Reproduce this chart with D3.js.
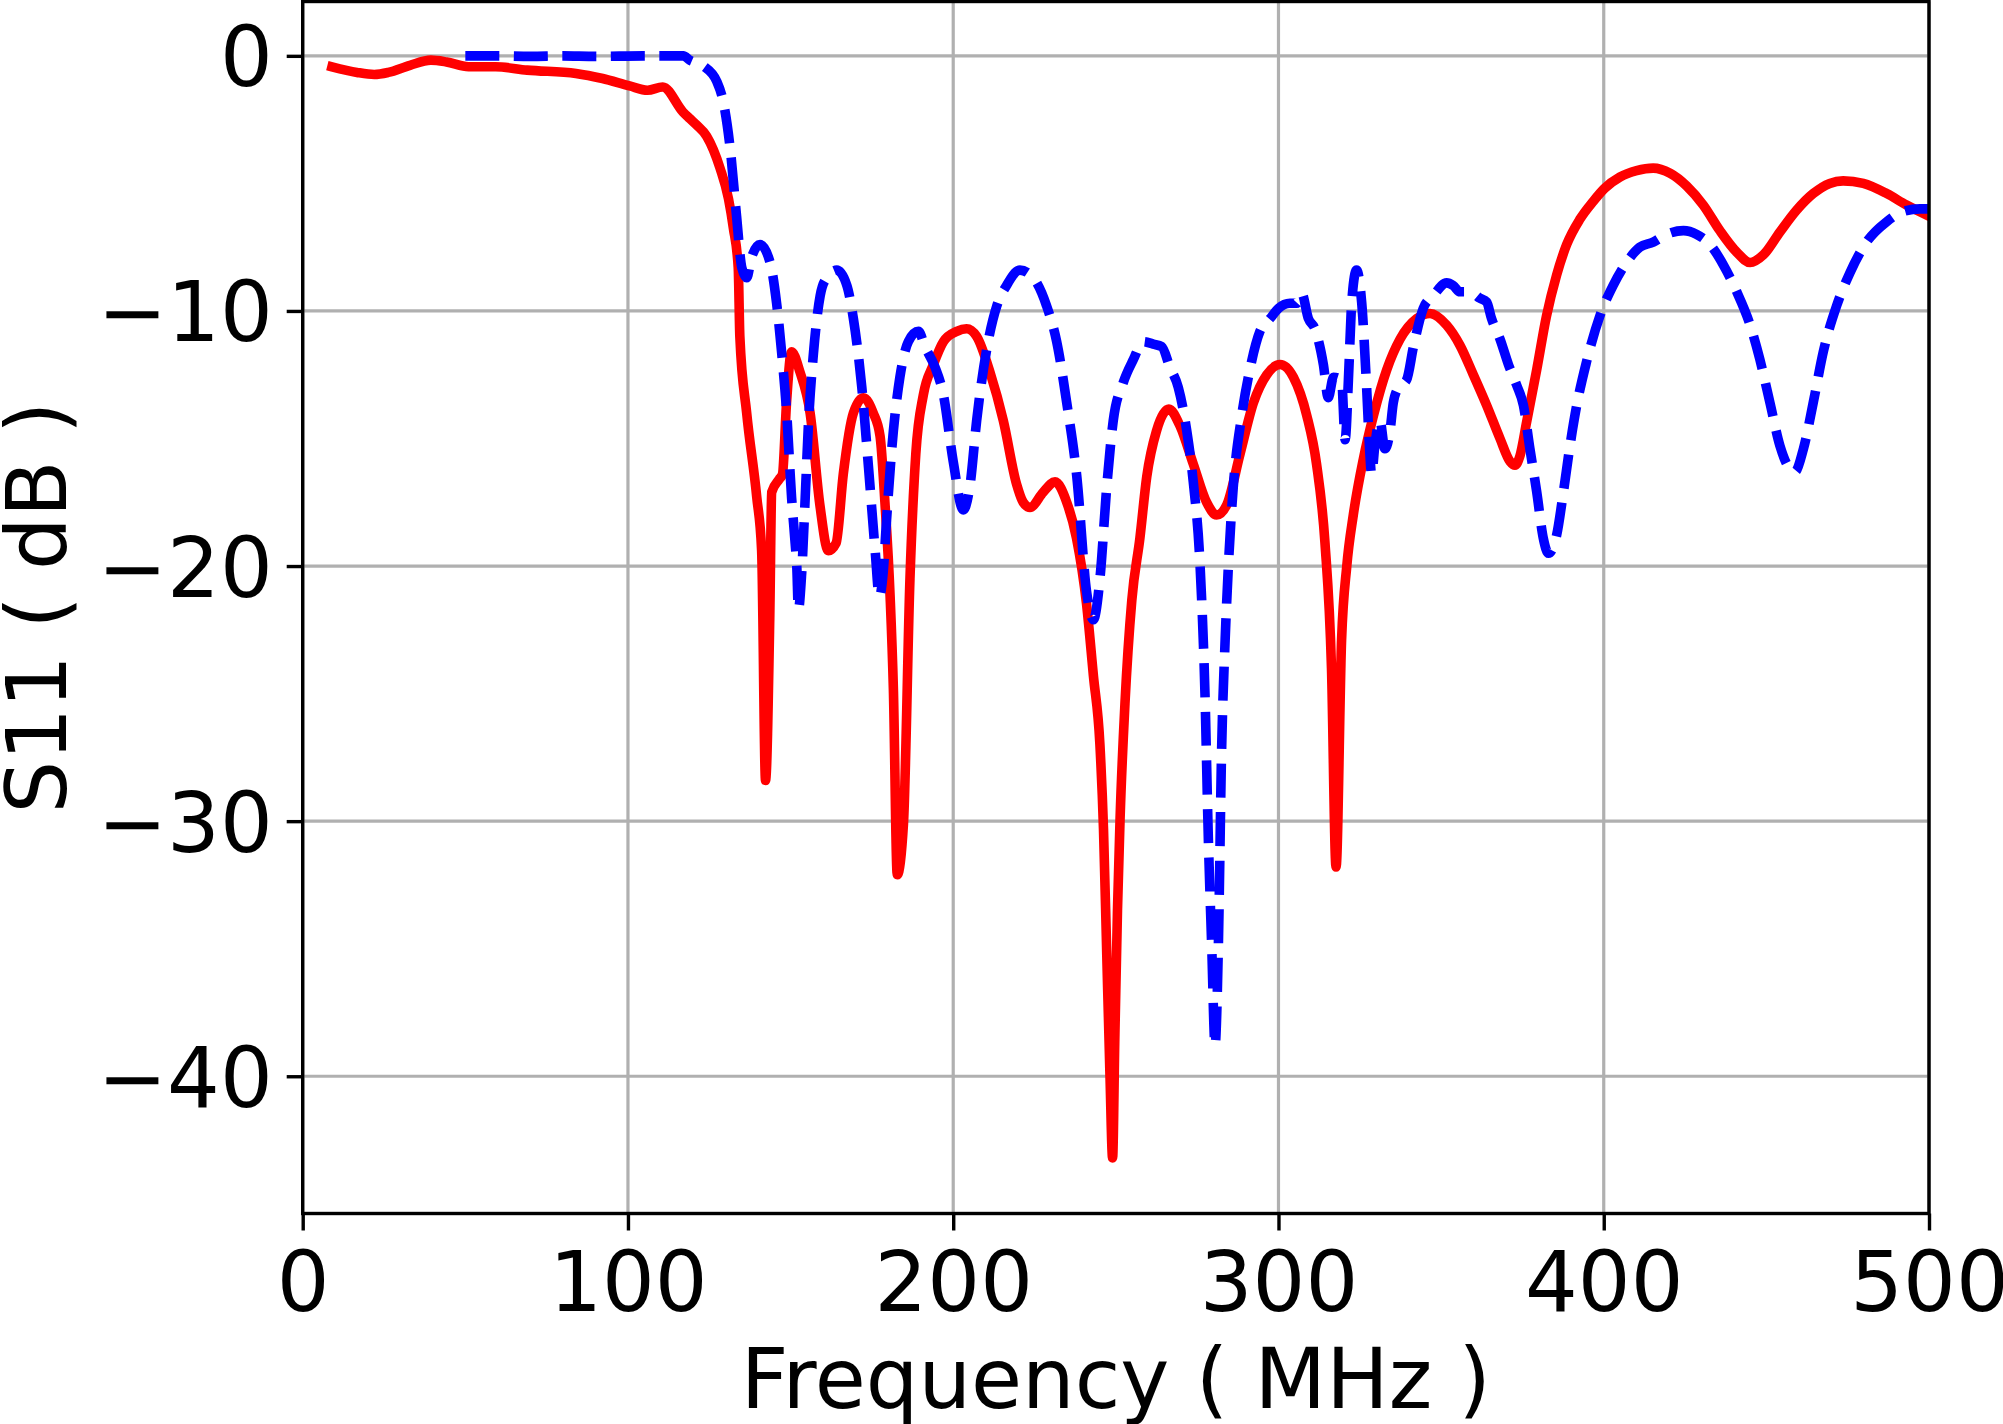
<!DOCTYPE html>
<html>
<head>
<meta charset="utf-8">
<script src="https://cdn.jsdelivr.net/npm/d3@7/dist/d3.min.js"></script>
<style>
  html, body { margin: 0; padding: 0; background: #fff; }
  svg { display: block; }
  text { font-family: "DejaVu Sans", sans-serif; }
</style>
</head>
<body>
<svg id="chart" width="2003" height="1424"></svg>
<script>
// ---- Data ----
const xTicks = [0, 100, 200, 300, 400, 500];
const yTicks = [0, -10, -20, -30, -40];
const xLabel = "Frequency ( MHz )";
const yLabel = "S11 ( dB )";

// Red solid series: frequency (MHz)
const redFreq = [9, 16.7, 22, 26.3, 33, 39.4, 44.2, 51, 59.3, 69, 84, 92.2, 100.5, 106, 110.7, 116.9, 119, 121, 124.2, 128.3,
  130.9, 132.4, 133.9, 134.4, 136.5, 139.6, 141.1, 142.3, 143.6, 144.2, 146.5, 147.5, 148.8, 150.3, 152.9, 156, 159, 161.6, 164, 166.2,
  169.3, 172.4, 175.4, 177.5, 179, 180.6, 181.6, 182.8, 184.7, 186.7, 188.5, 190.8, 193.9, 197, 201.1, 204.1, 207.2, 211.3, 215.4, 219.5,
  221.5, 223.6, 227.7, 231.3, 234.9, 237.9, 241, 243.1, 245.1, 246.2, 247.2, 248.2, 249.0, 249.7, 250.5, 251.3, 252.8, 254.9, 257.4, 259.5,
  262.5, 266.3, 269.7, 273.8, 277.9, 281, 284.1, 288.2, 292.3, 296.4, 300.5, 304.6, 308.7, 311.7, 314.3, 316.3, 317.7, 319.4, 321, 323,
  326.1, 329.2, 333.3, 337.4, 342.5, 346.6, 351.7, 355.8, 359.9, 364, 368.1, 371.2, 372.7, 374.2, 376.3, 379.4, 382.4, 385.5, 388.6, 392.7,
  396.8, 400.2, 405, 410.1, 415.2, 420.4, 425.5, 430.6, 435.7, 440.9, 445, 449.1, 454.2, 459.3, 464.4, 469.5, 473.6, 479.8, 487, 493.1, 500.3];
// Red solid series: S11 (dB)
const redS11 = [-0.43, -0.65, -0.73, -0.65, -0.37, -0.17, -0.24, -0.43, -0.43, -0.56, -0.69, -0.89, -1.18, -1.35, -1.22, -2.2, -2.46, -2.7, -3.15, -4.4,
  -5.6, -6.75, -8.3, -11.0, -14, -17.3, -19.4, -28.4, -22, -17.1, -16.6, -16.4, -13.5, -11.6, -12.4, -14, -17.6, -19.4, -19.1, -16.4,
  -14, -13.4, -14, -14.9, -17.5, -21.2, -24.8, -32.1, -30.1, -20.5, -15.6, -13.3, -12.1, -11.2, -10.8, -10.7, -11, -12.4, -14.3, -16.8,
  -17.5, -17.7, -17.1, -16.7, -17.5, -18.9, -21.5, -24.3, -27.0, -30.3, -35.2, -40, -43.2, -38.4, -33.5, -29.9, -25.4, -21.35, -18.9, -16.5,
  -14.7, -13.85, -14.5, -16.0, -17.5, -18.0, -17.6, -15.6, -13.6, -12.5, -12.1, -12.6, -14.1, -16.0, -19.1, -24, -31.8, -22.9, -20, -18,
  -15.8, -14.1, -12.3, -11.1, -10.3, -10.1, -10.56, -11.35, -12.5, -13.7, -15, -15.9, -16.05, -15.7, -14.35, -12.3, -10.2, -8.6, -7.4, -6.4,
  -5.7, -5.2, -4.75, -4.5, -4.4, -4.6, -5.1, -5.85, -6.85, -7.7, -8.1, -7.8, -6.9, -6.05, -5.4, -5.0, -4.9, -5.0, -5.4, -5.85, -6.3];

// Blue dashed series: frequency (MHz)
const blueFreq = [50, 60, 70, 80, 90, 104.7, 117, 119, 123.2, 127.3, 129.3, 131.4, 133.4, 135, 136.5, 138, 140.6, 143.7, 145.7, 147.3,
  148.8, 150.3, 151.4, 151.9, 152.4, 153.4, 154.5, 155.5, 157, 159.1, 161.1, 164.2, 167.3, 169.3, 171.9, 174, 176, 177.3, 178.5, 179.5,
  181.6, 183.6, 186.2, 189.3, 191.3, 194.4, 197, 200, 203.1, 205.2, 207.2, 210.3, 213.4, 216.4, 220.5, 224.6, 228.7, 231.8, 234.9, 238,
  241, 243.1, 245.1, 247.2, 249.2, 252.3, 255.4, 258.4, 261.5, 264.1, 266.6, 269.2, 271.8, 273.8, 275.9, 277.4, 278.4, 279.5, 280.5, 281.5,
  282.5, 283.6, 284.6, 286.1, 288.7, 291.2, 294.3, 297.4, 300, 303.5, 305.6, 307.1, 309.2, 311.2, 313.8, 315.3, 316.9, 319.4, 320.5, 321.5,
  322.5, 324, 325.6, 327.1, 328.1, 328.6, 329.7, 331.2, 332.7, 334.3, 335.3, 336.9, 339.4, 341.5, 344.5, 347.6, 351.7, 353.7, 355.8, 358.9,
  361.9, 364, 365.5, 368.1, 370.7, 373.2, 375.3, 377.3, 379.4, 381.4, 383, 385.5, 387.6, 389.6, 391.7, 394.7, 398.8, 402.9, 407.0, 411.1,
  415.2, 419.3, 424.5, 428.6, 432.7, 436.8, 440.9, 445, 448.0, 451.1, 454.2, 457.3, 458.8, 461.4, 464.4, 467.5, 471.6, 475.7, 480.8, 487,
  492.1, 497.2, 500];
// Blue dashed series: S11 (dB)
const blueS11 = [0, 0, -0.02, 0, -0.02, 0, 0, -0.17, -0.4, -1.0, -1.8, -3.6, -6.3, -8.3, -8.7, -7.9, -7.4, -8.1, -9.7, -11.7,
  -14, -17.3, -19.1, -20.0, -21.7, -20.3, -17.3, -14.4, -11.7, -9.4, -8.7, -8.4, -9.0, -10.3, -13, -16.2, -19.4, -21.2, -20.2, -18.2,
  -14.7, -12.6, -11.2, -10.8, -11.4, -12.2, -13.3, -15.9, -17.8, -16.8, -14.3, -11.5, -9.8, -9.0, -8.4, -8.7, -9.8, -11.2, -13.6, -16.5,
  -21, -22.1, -20.5, -16.9, -14.3, -12.8, -11.9, -11.2, -11.3, -11.4, -12.2, -13.0, -14.7, -16.7, -20, -25, -30.5, -35, -38.8, -35,
  -27.3, -22.9, -20, -16.9, -14.1, -12.3, -10.8, -10.3, -9.9, -9.7, -9.7, -9.3, -10.3, -10.7, -12.1, -13.4, -12.6, -12.7, -15.05, -12.7,
  -9.7, -8.4, -9.7, -13, -15.6, -16.4, -15.2, -14.3, -15.4, -14.7, -13.6, -13.0, -12.7, -11.4, -9.9, -9.4, -8.9, -9.0, -9.25, -9.25,
  -9.5, -9.65, -10.3, -11.1, -12.1, -12.9, -13.7, -15.4, -17.1, -18.9, -19.5, -18.8, -17.1, -15.3, -13.7, -12, -10.2, -9.0, -8.1, -7.5,
  -7.3, -7.0, -6.85, -7.0, -7.4, -8.2, -9.25, -10.55, -11.9, -13.6, -15.3, -16.2, -16.3, -15.4, -13.6, -11.6, -9.8, -8.5, -7.3, -6.5,
  -6.1, -6.0, -6.0];

// ---- Layout ----
const W = 2003, H = 1424;
const plot = { left: 302.7, right: 1929, top: 1.5, bottom: 1213.5 };
const FONT = 83;

const svg = d3.select("#chart");

const x = d3.scaleLinear().domain([0, 500]).range([plot.left, plot.right]);
const y = d3.scaleLinear().domain([-45.38, 2.13]).range([plot.bottom, plot.top]);

// Grid
const grid = svg.append("g").attr("class", "grid");
grid.selectAll("line.gx").data(xTicks).join("line")
  .attr("x1", d => x(d)).attr("x2", d => x(d))
  .attr("y1", plot.top).attr("y2", plot.bottom)
  .attr("stroke", "#b0b0b0").attr("stroke-width", 3.2);
grid.selectAll("line.gy").data(yTicks).join("line")
  .attr("x1", plot.left).attr("x2", plot.right)
  .attr("y1", d => y(d)).attr("y2", d => y(d))
  .attr("stroke", "#b0b0b0").attr("stroke-width", 3.2);

// Clip
svg.append("clipPath").attr("id", "clip").append("rect")
  .attr("x", plot.left).attr("y", plot.top)
  .attr("width", plot.right - plot.left).attr("height", plot.bottom - plot.top);

const line = d3.line()
  .x(d => x(d[0])).y(d => y(d[1]))
  .curve(d3.curveMonotoneX);

const redData = redFreq.map((f, i) => [f, redS11[i]]);
const blueData = blueFreq.map((f, i) => [f, blueS11[i]]);

const lines = svg.append("g").attr("clip-path", "url(#clip)");
lines.append("path").datum(redData)
  .attr("d", line)
  .attr("fill", "none").attr("stroke", "#ff0000")
  .attr("stroke-width", 9.6).attr("stroke-linejoin", "round").attr("stroke-linecap", "square");
lines.append("path").datum(blueData)
  .attr("d", line)
  .attr("fill", "none").attr("stroke", "#0000ff")
  .attr("stroke-width", 9.6).attr("stroke-linejoin", "round").attr("stroke-linecap", "butt")
  .attr("stroke-dasharray", "34,14.5");

// Axes
const xAxis = d3.axisBottom(x).tickValues(xTicks).tickSize(17).tickSizeOuter(0).tickFormat(d3.format("d"));
const yAxis = d3.axisLeft(y).tickValues(yTicks).tickSize(16).tickSizeOuter(0)
  .tickFormat(d => d < 0 ? "\u2212" + Math.abs(d) : String(d));

const gx = svg.append("g").attr("transform", `translate(0,${plot.bottom})`).call(xAxis);
gx.select(".domain").remove();
gx.selectAll(".tick line").attr("stroke", "#000").attr("stroke-width", 3.4);
gx.selectAll(".tick text").attr("y", 97).attr("dy", null)
  .attr("font-size", FONT).attr("fill", "#000").attr("font-family", "DejaVu Sans");

const gy = svg.append("g").attr("transform", `translate(${plot.left},0)`).call(yAxis);
gy.select(".domain").remove();
gy.selectAll(".tick line").attr("stroke", "#000").attr("stroke-width", 3.4);
gy.selectAll(".tick text").attr("x", -30).attr("dy", 30)
  .attr("font-size", FONT).attr("fill", "#000").attr("font-family", "DejaVu Sans");

// Spines
svg.append("rect")
  .attr("x", plot.left).attr("y", plot.top)
  .attr("width", plot.right - plot.left).attr("height", plot.bottom - plot.top)
  .attr("fill", "none").attr("stroke", "#000").attr("stroke-width", 3.4);

// Axis labels
svg.append("text")
  .attr("x", (plot.left + plot.right) / 2).attr("y", 1408)
  .attr("text-anchor", "middle").attr("font-size", FONT).attr("fill", "#000")
  .text(xLabel);
svg.append("text")
  .attr("transform", `translate(66,${(plot.top + plot.bottom) / 2}) rotate(-90)`)
  .attr("text-anchor", "middle").attr("font-size", FONT).attr("fill", "#000")
  .text(yLabel);
</script>
</body>
</html>
